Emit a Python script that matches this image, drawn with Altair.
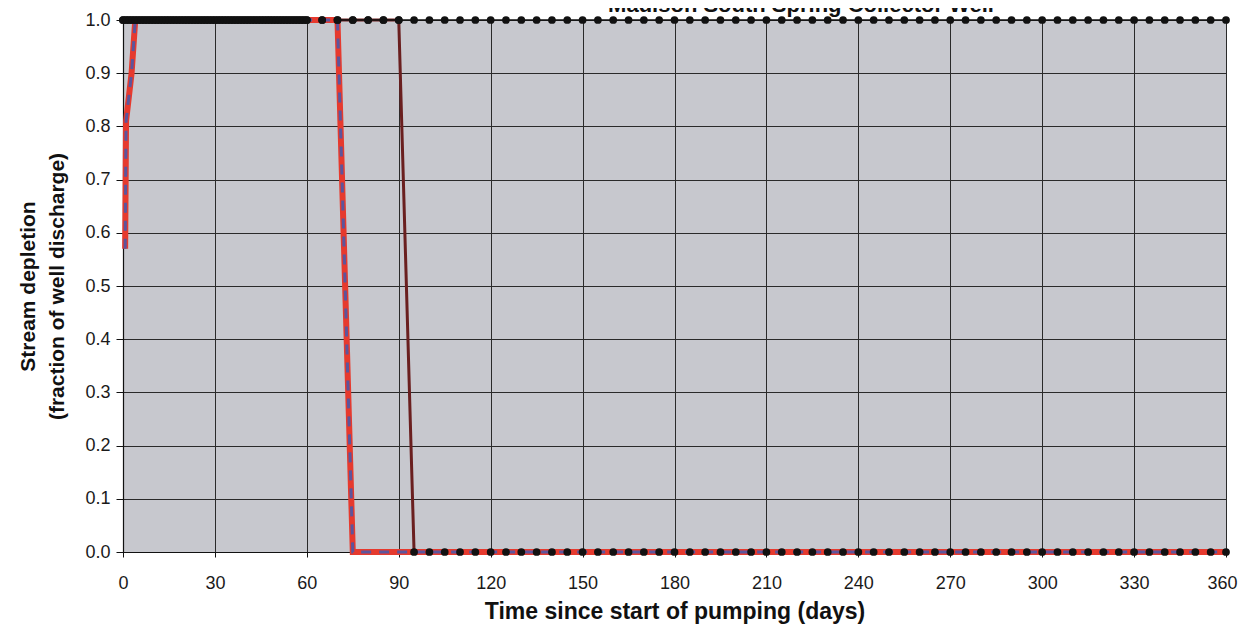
import altair as alt
import pandas as pd

# ---- data ----
# sample days of the marker series: daily to day 60, then every 5 days
DAYS = list(range(0, 61)) + list(range(65, 361, 5))

# continuous pumping: depletion stays at 1.0
CONTINUOUS = [
    1.0, 1.0, 1.0, 1.0, 1.0, 1.0, 1.0, 1.0, 1.0, 1.0, 1.0, 1.0, 1.0, 1.0, 1.0, 1.0, 1.0, 1.0, 1.0, 1.0,
    1.0, 1.0, 1.0, 1.0, 1.0, 1.0, 1.0, 1.0, 1.0, 1.0, 1.0, 1.0, 1.0, 1.0, 1.0, 1.0, 1.0, 1.0, 1.0, 1.0,
    1.0, 1.0, 1.0, 1.0, 1.0, 1.0, 1.0, 1.0, 1.0, 1.0, 1.0, 1.0, 1.0, 1.0, 1.0, 1.0, 1.0, 1.0, 1.0, 1.0,
    1.0, 1.0, 1.0, 1.0, 1.0, 1.0, 1.0, 1.0, 1.0, 1.0, 1.0, 1.0, 1.0, 1.0, 1.0, 1.0, 1.0, 1.0, 1.0, 1.0,
    1.0, 1.0, 1.0, 1.0, 1.0, 1.0, 1.0, 1.0, 1.0, 1.0, 1.0, 1.0, 1.0, 1.0, 1.0, 1.0, 1.0, 1.0, 1.0, 1.0,
    1.0, 1.0, 1.0, 1.0, 1.0, 1.0, 1.0, 1.0, 1.0, 1.0, 1.0, 1.0, 1.0, 1.0, 1.0, 1.0, 1.0, 1.0, 1.0, 1.0,
    1.0,
]

# 90-day pumping: 1.0 through day 90, then 0.0 from day 95
PUMP_90 = [
    1.0, 1.0, 1.0, 1.0, 1.0, 1.0, 1.0, 1.0, 1.0, 1.0, 1.0, 1.0, 1.0, 1.0, 1.0, 1.0, 1.0, 1.0, 1.0, 1.0,
    1.0, 1.0, 1.0, 1.0, 1.0, 1.0, 1.0, 1.0, 1.0, 1.0, 1.0, 1.0, 1.0, 1.0, 1.0, 1.0, 1.0, 1.0, 1.0, 1.0,
    1.0, 1.0, 1.0, 1.0, 1.0, 1.0, 1.0, 1.0, 1.0, 1.0, 1.0, 1.0, 1.0, 1.0, 1.0, 1.0, 1.0, 1.0, 1.0, 1.0,
    1.0, 1.0, 1.0, 1.0, 1.0, 1.0, 1.0, 0.0, 0.0, 0.0, 0.0, 0.0, 0.0, 0.0, 0.0, 0.0, 0.0, 0.0, 0.0, 0.0,
    0.0, 0.0, 0.0, 0.0, 0.0, 0.0, 0.0, 0.0, 0.0, 0.0, 0.0, 0.0, 0.0, 0.0, 0.0, 0.0, 0.0, 0.0, 0.0, 0.0,
    0.0, 0.0, 0.0, 0.0, 0.0, 0.0, 0.0, 0.0, 0.0, 0.0, 0.0, 0.0, 0.0, 0.0, 0.0, 0.0, 0.0, 0.0, 0.0, 0.0,
    0.0,
]

# shorter pumping period (red / dashed curve): corner points
SHORT_DAYS = [0.7, 1.0, 2.8, 4.0, 70, 75, 360]
SHORT_VALUES = [0.57, 0.81, 0.90, 1.0, 1.0, 0.0, 0.0]

X_TICKS = [0, 30, 60, 90, 120, 150, 180, 210, 240, 270, 300, 330, 360]
Y_TICKS = [0.0, 0.1, 0.2, 0.3, 0.4, 0.5, 0.6, 0.7, 0.8, 0.9, 1.0]

TITLE = "Madison South Spring Collector Well"
X_TITLE = "Time since start of pumping (days)"
Y_TITLE = ["Stream depletion", "(fraction of well discharge)"]

# ---- tables ----
cont_df = pd.DataFrame({"day": DAYS, "value": CONTINUOUS})
p90_df = pd.DataFrame({"day": DAYS, "value": PUMP_90})
short_df = pd.DataFrame({"day": SHORT_DAYS, "value": SHORT_VALUES})
title_df = pd.DataFrame({"label": [TITLE]})

FONT = "Liberation Sans"

x_enc = alt.X(
    "day:Q",
    scale=alt.Scale(domain=[0, 360], nice=False, zero=False),
    axis=alt.Axis(
        values=X_TICKS,
        title=X_TITLE,
        labelFlush=False,
        labelAlign={"expr": "datum.value == 360 ? 'right' : 'center'"},
        labelOffset={"expr": "datum.value == 360 ? 11 : 0"},
        labelFontSize=18,
        labelFont=FONT,
        labelColor="#1a1a1a",
        labelPadding=17,
        tickSize=5,
        tickColor="#111111",
        domainColor="#111111",
        domainWidth=1.2,
        grid=True,
        gridColor="#2a2a2a",
        gridWidth=1,
        titleFont=FONT,
        titleFontSize=23,
        titleFontWeight="bold",
        titleColor="#111111",
        titlePadding=8,
    ),
)

y_enc = alt.Y(
    "value:Q",
    scale=alt.Scale(domain=[0, 1], nice=False),
    axis=alt.Axis(
        values=Y_TICKS,
        format=".1f",
        title=Y_TITLE,
        labelFlush=False,
        labelFontSize=18,
        labelFont=FONT,
        labelColor="#1a1a1a",
        labelPadding=6,
        tickSize=7,
        tickColor="#111111",
        domainColor="#111111",
        domainWidth=1.2,
        grid=True,
        gridColor="#2a2a2a",
        gridWidth=1,
        titleFont=FONT,
        titleFontSize=21,
        titleFontWeight="bold",
        titleColor="#111111",
        titleLineHeight=29,
        titlePadding=17,
    ),
)

p90_line = alt.Chart(p90_df).mark_line(color="#6a1f1f", strokeWidth=3).encode(x=x_enc, y=y_enc)
cont_line = alt.Chart(cont_df).mark_line(color="#111111", strokeWidth=1.5).encode(x=x_enc, y=y_enc)
short_line = alt.Chart(short_df).mark_line(color="#e63a2e", strokeWidth=6).encode(x=x_enc, y=y_enc)
short_dash = alt.Chart(short_df).mark_line(
    color="#5c559c", strokeWidth=3, strokeDash=[10, 8]
).encode(x=x_enc, y=y_enc)
p90_pts = alt.Chart(p90_df).mark_circle(color="#111111", size=60, opacity=1).encode(x=x_enc, y=y_enc)
cont_pts = alt.Chart(cont_df).mark_circle(color="#111111", size=60, opacity=1).encode(x=x_enc, y=y_enc)

title_txt = alt.Chart(title_df).mark_text(
    font=FONT, fontSize=22, fontWeight="bold", color="#111111", align="center", baseline="alphabetic"
).encode(text="label:N", x=alt.value(678), y=alt.value(-8))

chart = (
    alt.layer(p90_line, cont_line, short_line, short_dash, p90_pts, cont_pts, title_txt)
    .properties(
        width=1103,
        height=532,
        autosize=alt.AutoSizeParams(type="none"),
        padding={"left": 115, "top": 12, "right": 13, "bottom": 74},
        background="white",
    )
    .configure_view(fill="#c7c8ce", stroke="#2a2a2a", strokeWidth=1)
)

chart.save("out.html", embed_options={"renderer": "svg", "actions": False})
